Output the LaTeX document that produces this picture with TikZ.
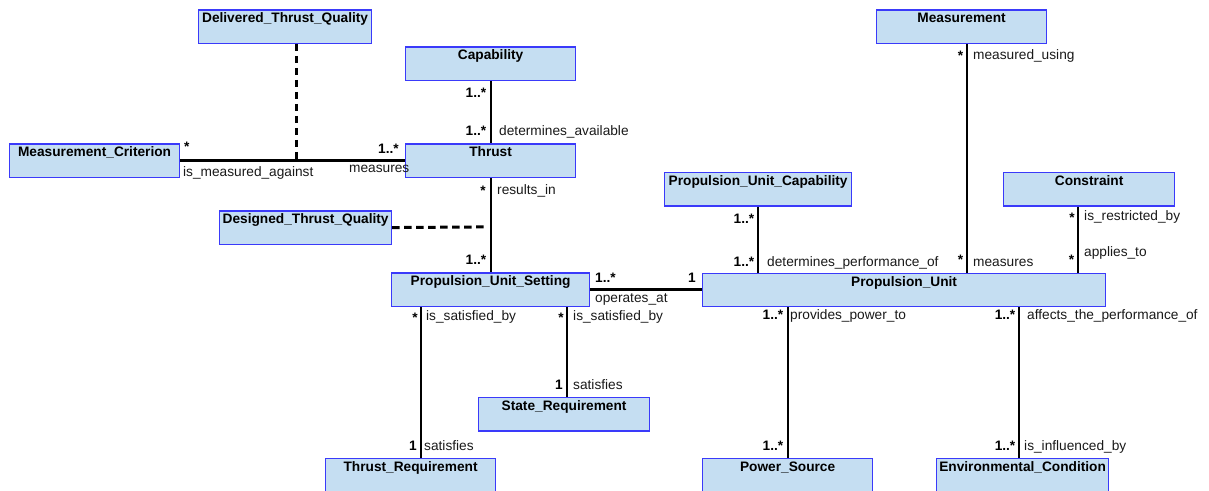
\documentclass[tikz,border=0pt]{standalone}
\usepackage{fontspec}
\setmainfont{Liberation Sans}
\definecolor{clsfill}{RGB}{197,222,242}
\definecolor{clsline}{RGB}{58,58,250}
\tikzset{
  cls/.style={draw=clsline, fill=clsfill, line width=1.2pt, inner sep=0pt,
    anchor=north west, minimum height=33.3pt},
  clsname/.style={font=\fontsize{13.7}{16}\selectfont\bfseries, inner sep=0pt, anchor=base},
  assoc/.style={line width=2.2pt},
  dep/.style={line width=3pt, dash pattern=on 7.5pt off 4.5pt},
  role/.style={font=\fontsize{13.7}{16}\selectfont, text=black!90, inner sep=0pt, anchor=base west},
  mult/.style={font=\fontsize{13.7}{16}\selectfont\bfseries, inner sep=0pt, anchor=base east},
}
% class box: name, left x, top y, width, title
\newcommand{\umlclass}[5]{%
  \node[cls, minimum width=#4pt] (#1) at (#2,#3) {};
  \node[clsname] (#1-t) at ([yshift=-13.3pt]#1.north) {#5};
}
\begin{document}
\begin{tikzpicture}[x=1pt, y=-1pt]
\useasboundingbox (0,0) rectangle (1209,490);

% connector anchors
\coordinate (dq) at (296,159.6);
\coordinate (dqe) at (486,226.9);
\coordinate (mx) at (967,0);
\coordinate (cx) at (1078,0);
\coordinate (ex) at (1019,0);
\coordinate (tx) at (421,0);
\coordinate (sx) at (567,0);

% classes
\umlclass{dtq}{198}{9.3}{173}{Delivered\_Thrust\_Quality}
\umlclass{mc}{9}{143.3}{170}{Measurement\_Criterion}
\umlclass{cap}{405}{46.3}{170}{Capability}
\umlclass{thr}{405}{143.3}{170}{Thrust}
\umlclass{des}{219}{210.3}{172}{Designed\_Thrust\_Quality}
\umlclass{meas}{876}{9.3}{170}{Measurement}
\umlclass{puc}{664}{172}{187}{Propulsion\_Unit\_Capability}
\umlclass{con}{1003}{172}{171}{Constraint}
\umlclass{pus}{391}{272.3}{198}{Propulsion\_Unit\_Setting}
\umlclass{pu}{702}{272.8}{403}{Propulsion\_Unit}
\umlclass{sr}{478}{397}{171}{State\_Requirement}
\umlclass{tr}{325}{458}{170}{Thrust\_Requirement}
\umlclass{ps}{702}{458}{170}{Power\_Source}
\umlclass{ec}{936}{458}{172}{Environmental\_Condition}

% associations and quality links
\draw[assoc] (mc.east) -- (thr.west);
\draw[dep] (dtq.south -| dq) -- (dq);
\draw[assoc] (cap.south) -- (thr.north);
\draw[assoc] (thr.south) -- (pus.north);
\draw[dep] (des.east) -- (dqe);
\draw[assoc] (pus.east) -- (pus.east -| pu.west);
\draw[assoc] (puc.south) -- (puc.south |- pu.north);
\draw[assoc] (meas.south -| mx) -- (pu.north -| mx);
\draw[assoc] (con.south -| cx) -- (pu.north -| cx);
\draw[assoc] (pu.south -| ps.north) -- (ps.north);
\draw[assoc] (pu.south -| ex) -- (ec.north -| ex);
\draw[assoc] (pus.south -| tx) -- (tr.north -| tx);
\draw[assoc] (pus.south -| sx) -- (sr.north -| sx);

% multiplicities and role names
\node[mult] (m1) at (189.7,151.5) {*};
\node[role] (r1) at (183,176) {is\_measured\_against};
\node[mult] (m2) at (399,153.5) {1..*};
\node[role] (r2) at (349,172.5) {measures};

\node[mult] (m3) at (486.5,97.5) {1..*};
\node[mult] (m4) at (486.5,135.5) {1..*};
\node[role] (r4) at (499,135.5) {determines\_available};

\node[mult] (m5) at (486,195.8) {*};
\node[role] (r5) at (497,194) {results\_in};
\node[mult] (m6) at (486.5,264) {1..*};

\node[mult] (m7) at (963.5,60.2) {*};
\node[role] (r7) at (973,59.5) {measured\_using};

\node[mult] (m8) at (754.5,223.3) {1..*};
\node[mult] (m9) at (1075,222.5) {*};
\node[role] (r9) at (1084,220.5) {is\_restricted\_by};

\node[mult] (m10) at (754.5,266) {1..*};
\node[role] (r10) at (767,266) {determines\_performance\_of};
\node[mult] (m11) at (963.5,264.8) {*};
\node[role] (r11) at (973,266) {measures};
\node[mult] (m12) at (1074.5,264.2) {*};
\node[role] (r12) at (1084,256) {applies\_to};

\node[mult, anchor=base west] (m13) at (595,282) {1..*};
\node[mult] (m14) at (696,282) {1};
\node[role] (r14) at (595,302.7) {operates\_at};

\node[mult] (m15) at (418,322.5) {*};
\node[role] (r15) at (426,320) {is\_satisfied\_by};
\node[mult] (m16) at (564,322.5) {*};
\node[role] (r16) at (573,320) {is\_satisfied\_by};
\node[mult] (m17) at (563,389.3) {1};
\node[role] (r17) at (573,389.3) {satisfies};
\node[mult] (m18) at (417,450) {1};
\node[role] (r18) at (424,450) {satisfies};

\node[mult] (m19) at (783.5,319.3) {1..*};
\node[role] (r19) at (790,319.3) {provides\_power\_to};
\node[mult] (m20) at (1015.5,319.3) {1..*};
\node[role] (r20) at (1027,319) {affects\_the\_performance\_of};
\node[mult] (m21) at (783.5,450) {1..*};
\node[mult] (m22) at (1015.5,450) {1..*};
\node[role] (r22) at (1024,450) {is\_influenced\_by};
\end{tikzpicture}
\end{document}
